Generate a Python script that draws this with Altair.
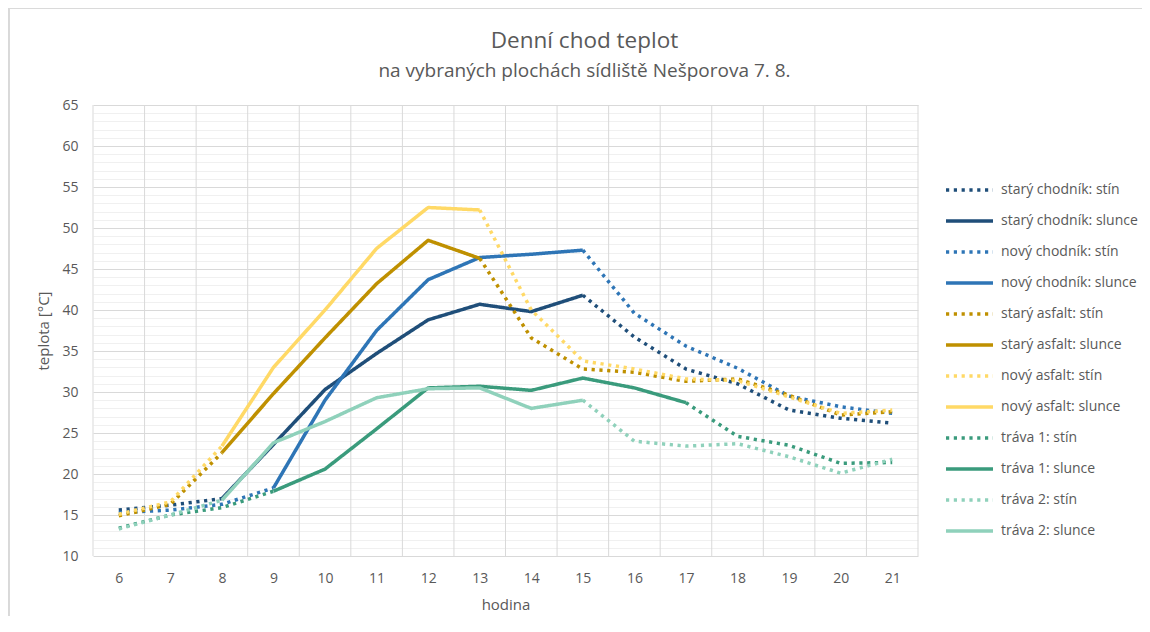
import altair as alt
import pandas as pd

hours = list(range(6, 22))
surfaces = ["starý chodník", "nový chodník", "starý asfalt", "nový asfalt", "tráva 1", "tráva 2"]
colors = ["#1f4e79", "#2e75b6", "#bf9000", "#ffd966", "#3a9b7c", "#8fd1bb"]

stary_chodnik = [15.6, 16.2, 17.0, 23.6, 30.3, 34.7, 38.8, 40.7, 39.8, 41.8, 36.7, 32.8, 31.0, 27.8, 26.8, 26.2]
novy_chodnik = [15.3, 15.6, 16.3, 18.3, 29.0, 37.5, 43.7, 46.4, 46.8, 47.3, 39.6, 35.6, 32.9, 29.5, 28.2, 27.4]
stary_asfalt = [14.9, 16.3, 22.6, 29.8, 36.6, 43.2, 48.5, 46.3, 36.6, 32.8, 32.4, 31.3, 31.6, 29.6, 27.2, 27.6]
novy_asfalt = [15.1, 16.6, 23.4, 33.0, 40.0, 47.5, 52.5, 52.2, 40.0, 33.8, 32.8, 31.6, 31.4, 29.4, 27.4, 27.8]
trava_1 = [13.4, 15.0, 15.9, 17.9, 20.6, 25.5, 30.5, 30.7, 30.2, 31.7, 30.5, 28.7, 24.6, 23.5, 21.3, 21.4]
trava_2 = [13.3, 15.0, 16.8, 23.8, 26.4, 29.3, 30.4, 30.5, 28.0, 29.0, 24.0, 23.4, 23.7, 22.1, 20.1, 21.8]
series = [stary_chodnik, novy_chodnik, stary_asfalt, novy_asfalt, trava_1, trava_2]

# hours between which each surface was measured in the sun
sun_start = [8, 9, 8, 8, 9, 8]
sun_end = [15, 15, 13, 13, 17, 15]

rows = []
for s, vals, a, b in zip(surfaces, series, sun_start, sun_end):
    for h, v in zip(hours, vals):
        if h <= a:
            rows.append(dict(h=h, t=v, label=f"{s}: stín", seg=f"{s}-a"))
        if a <= h <= b:
            rows.append(dict(h=h, t=v, label=f"{s}: slunce", seg=f"{s}-b"))
        if h >= b:
            rows.append(dict(h=h, t=v, label=f"{s}: stín", seg=f"{s}-c"))
df = pd.DataFrame(rows)

labels = []
color_range = []
dash_range = []
for s, c in zip(surfaces, colors):
    labels += [f"{s}: stín", f"{s}: slunce"]
    color_range += [c, c]
    dash_range += [[3.2, 4.6], [1, 0]]

bounds = pd.DataFrame({"b": [h - 0.5 for h in hours] + [hours[-1] + 0.5]})

W, H = 825, 451
FONT = "Open Sans"
TXT = "#595959"

legend = alt.Legend(
    title=None, orient="none", legendX=851, legendY=77,
    symbolType="stroke", symbolSize=2209, symbolStrokeWidth=3.5,
    clipHeight=16, rowPadding=15, labelOffset=6, padding=0,
    labelFontSize=14, labelFont=FONT, labelColor=TXT, labelLimit=300,
)

xscale = alt.Scale(domain=[5.5, 21.5], nice=False, zero=False)
yscale = alt.Scale(domain=[10, 65], nice=False, zero=False)

grid_v = alt.Chart(bounds).mark_rule(color="#d9d9d9", strokeWidth=1).encode(
    x=alt.X("b:Q", scale=xscale)
)

lines = alt.Chart(df).mark_line(strokeWidth=3.5, strokeCap="butt", strokeJoin="round").encode(
    x=alt.X("h:Q", scale=xscale, title="hodina",
            axis=alt.Axis(values=hours, grid=False, ticks=False, domain=False,
                          labelPadding=15, titlePadding=12, labelFontSize=14,
                          titleFontSize=15, labelFont=FONT, titleFont=FONT,
                          labelColor=TXT, titleColor=TXT, titleFontWeight="normal")),
    y=alt.Y("t:Q", scale=yscale, title="teplota [°C]",
            axis=alt.Axis(values=list(range(10, 66)),
                          labelExpr="datum.value % 5 === 0 ? datum.label : ''",
                          gridColor={"condition": {"test": "datum.value % 5 === 0", "value": "#d9d9d9"},
                                     "value": "#f0f0f0"},
                          ticks=False, domain=False, labelPadding=15, titlePadding=10,
                          labelFontSize=14, titleFontSize=15, labelFont=FONT, titleFont=FONT,
                          labelColor=TXT, titleColor=TXT, titleFontWeight="normal")),
    color=alt.Color("label:N", scale=alt.Scale(domain=labels, range=color_range), legend=legend),
    strokeDash=alt.StrokeDash("label:N", scale=alt.Scale(domain=labels, range=dash_range), legend=legend),
    detail="seg:N",
)

border_top = alt.Chart(bounds).mark_rule(color="#d9d9d9", strokeWidth=1, clip=False).encode(
    x=alt.value(-84), x2=alt.value(W + 250), y=alt.value(-97)
)
border_left = alt.Chart(bounds).mark_rule(color="#d9d9d9", strokeWidth=1, clip=False).encode(
    x=alt.value(-84), y=alt.value(-97), y2=alt.value(H + 95)
)

chart = alt.layer(border_top, border_left, grid_v, lines).properties(
    width=W, height=H,
    title=alt.TitleParams(
        text="Denní chod teplot",
        subtitle="na vybraných plochách sídliště Nešporova 7. 8.",
        font=FONT, subtitleFont=FONT, fontSize=22.5, subtitleFontSize=19,
        fontWeight="normal", color=TXT, subtitleColor=TXT,
        anchor="middle", dx=79, dy=93, offset=20, subtitlePadding=9,
    ),
    autosize=alt.AutoSizeParams(type="none"),
    padding={"left": 85, "top": 97, "right": 224, "bottom": 60},
).configure_view(stroke=None)

chart.save("out.html", embed_options={"renderer": "svg", "actions": False})
